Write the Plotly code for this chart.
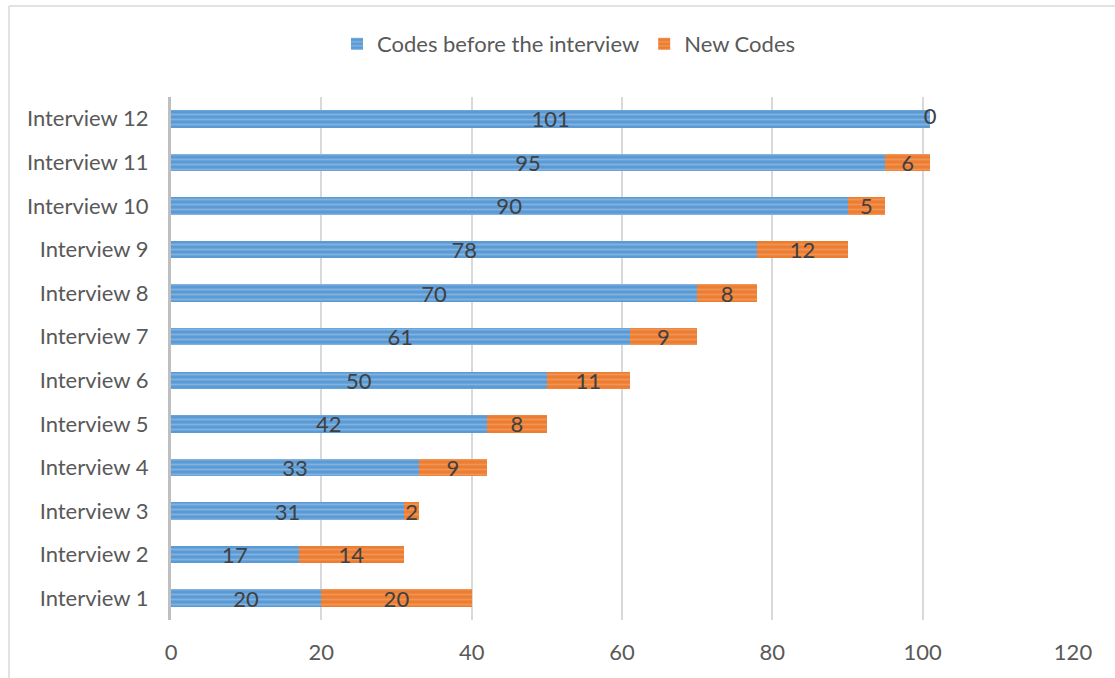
import plotly.graph_objects as go

categories = ["Interview 1", "Interview 2", "Interview 3", "Interview 4", "Interview 5", "Interview 6",
              "Interview 7", "Interview 8", "Interview 9", "Interview 10", "Interview 11", "Interview 12"]
codes_before = [20, 17, 31, 33, 42, 50, 61, 70, 78, 90, 95, 101]
new_codes = [20, 14, 2, 9, 8, 11, 9, 8, 12, 5, 6, 0]
x_ticks = [0, 20, 40, 60, 80, 100, 120]

FONT = "Lato, Carlito, Calibri, sans-serif"
BLUE = "#5B9BD5"
ORANGE = "#ED7D31"
LABEL_FONT = dict(family=FONT, size=22, color="#404040")

fig = go.Figure()
fig.add_trace(go.Bar(
    y=categories, x=codes_before, orientation="h", name="Codes before the interview",
    text=[str(v) for v in codes_before], textposition="inside", insidetextanchor="middle",
    textangle=0, constraintext="none", insidetextfont=LABEL_FONT, cliponaxis=False,
    marker=dict(color=BLUE, line=dict(width=0),
                pattern=dict(shape="-", fgcolor="#A9CBEB", bgcolor=BLUE, size=5, solidity=0.35)),
))
fig.add_trace(go.Bar(
    y=categories, x=new_codes, orientation="h", name="New Codes",
    text=[str(v) for v in new_codes], textposition="inside", insidetextanchor="middle",
    textangle=0, constraintext="none", insidetextfont=LABEL_FONT, cliponaxis=False,
    marker=dict(color=ORANGE, line=dict(width=0),
                pattern=dict(shape="-", fgcolor="#F4AE80", bgcolor=ORANGE, size=5, solidity=0.35)),
))
# zero-width segments get no inside text from plotly; label them at their position
zero_idx = [i for i, n in enumerate(new_codes) if n == 0]
fig.add_trace(go.Scatter(
    y=[categories[i] for i in zero_idx], x=[codes_before[i] for i in zero_idx],
    mode="text", text=[str(new_codes[i]) for i in zero_idx], textposition="middle center",
    textfont=LABEL_FONT, showlegend=False, hoverinfo="skip", cliponaxis=False,
))

L, R, T, B = 171, 42, 97, 58
W, H = 1115, 678
pw, ph = W - L - R, H - T - B

def px(x):
    return (x - L) / pw

def py(y):
    return (H - B - y) / ph

fig.update_layout(
    width=W, height=H, margin=dict(l=L, r=R, t=T, b=B),
    barmode="stack", bargap=0.6,
    plot_bgcolor="white", paper_bgcolor="white",
    font=dict(family=FONT, size=22, color="#595959"),
    legend=dict(orientation="h", x=px(569), xanchor="center", y=py(44), yanchor="middle",
                font=dict(family=FONT, size=22, color="#595959"), traceorder="normal",
                itemwidth=30, bgcolor="rgba(0,0,0,0)"),
    xaxis=dict(range=[0, 120], tickvals=x_ticks, ticktext=[str(v) for v in x_ticks],
               showgrid=True, gridcolor="#D9D9D9", gridwidth=2, zeroline=False,
               showline=False, ticks="", ticklabelstandoff=17, fixedrange=True, automargin=False),
    yaxis=dict(categoryorder="array", categoryarray=categories, range=[-0.5, len(categories) - 0.5],
               showgrid=False, showline=True, linecolor="#BFBFBF", linewidth=3, ticks="",
               ticklabelstandoff=15, zeroline=False, fixedrange=True, automargin=False),
    shapes=[
        dict(type="line", xref="paper", yref="paper", x0=px(9), x1=px(9), y0=py(6), y1=py(678),
             line=dict(color="#D9D9D9", width=1.5)),
        dict(type="line", xref="paper", yref="paper", x0=px(9), x1=px(1115), y0=py(6), y1=py(6),
             line=dict(color="#D9D9D9", width=1.5)),
    ],
)

fig.write_html("out.html")
